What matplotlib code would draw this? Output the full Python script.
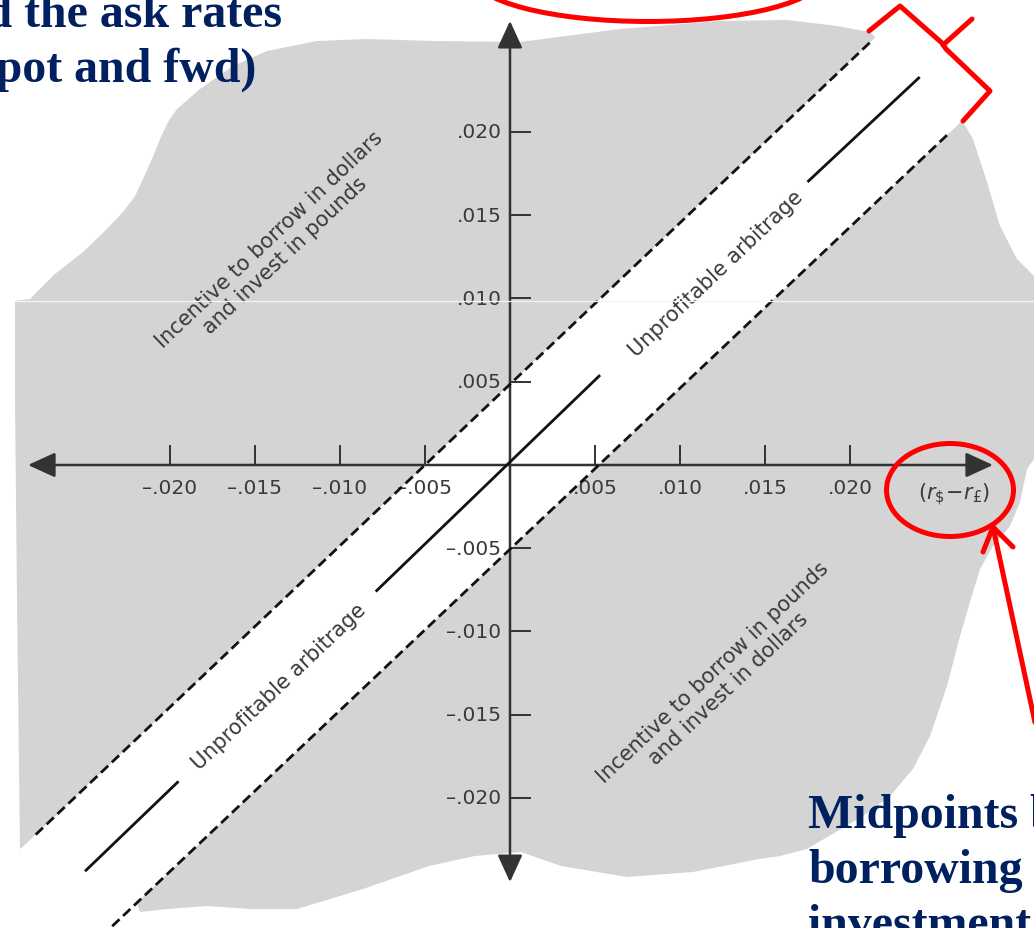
import numpy as np
import matplotlib.pyplot as plt
from matplotlib.patches import Polygon, Ellipse

# tick values and labels, same on both axes
tick_values = [-0.020, -0.015, -0.010, -0.005, 0.005, 0.010, 0.015, 0.020]
tick_labels = ["\u2013.020", "\u2013.015", "\u2013.010", "\u2013.005",
               ".005", ".010", ".015", ".020"]

# solid parity line, in three pieces (broken around the band labels)
solid_x = [[-0.0250, -0.0195], [-0.0079, 0.0053], [0.0175, 0.0241]]
solid_y = [[-0.0244, -0.0190], [-0.0076, 0.0054], [0.0170, 0.0233]]

# dashed edges of the band (end points)
upper_x = [-0.0279, 0.0213]
upper_y = [-0.0222, 0.0255]
lower_x = [-0.0234, 0.0259]
lower_y = [-0.0277, 0.0200]

region_labels = ["Incentive to borrow in dollars\nand invest in pounds",
                 "Incentive to borrow in pounds\nand invest in dollars"]
region_x = [-0.0137, 0.0124]
region_y = [0.0131, -0.0129]

band_label = "Unprofitable arbitrage"
band_x = [0.0121, -0.0136]
band_y = [0.0115, -0.0133]

axis_label = "$(r_{\\$}\\!-\\!r_{\u00a3})$"

W, H = 1034, 929
fig = plt.figure(figsize=(W / 100, H / 100), dpi=100)

# background layer in pixel coordinates: the grey blob
bg = fig.add_axes([0, 0, 1, 1])
bg.set_xlim(0, W)
bg.set_ylim(H, 0)
bg.axis("off")
blob = [(20, 850), (17, 600), (15, 400), (15, 302), (30, 300), (55, 275), (83, 253),
        (105, 232), (123, 213), (135, 197), (143, 180), (152, 160), (160, 140),
        (168, 123), (177, 110), (200, 90), (233, 67), (267, 52), (317, 42),
        (367, 40), (433, 42), (520, 43), (620, 30), (720, 22), (787, 21),
        (837, 27), (870, 33), (950, 110), (963, 123), (973, 140), (987, 183),
        (1000, 227), (1017, 260), (1040, 283), (1040, 455), (1034, 460),
        (1027, 470), (1020, 503), (1010, 527), (993, 547), (980, 570),
        (970, 603), (960, 637), (947, 687), (930, 737), (913, 770), (890, 797),
        (863, 817), (807, 850), (780, 857), (759, 860), (693, 873), (627, 878),
        (561, 867), (521, 853), (475, 857), (429, 867), (363, 890), (297, 910),
        (250, 910), (207, 907), (167, 910), (140, 913), (100, 800)]
bg.add_patch(Polygon(blob, closed=True, fc="#d4d4d4", ec="none"))

# chart layer in data coordinates
ax = fig.add_axes([0, 0, 1, 1])
ax.patch.set_alpha(0)
ax.set_xlim(-0.0300, 0.030824)
ax.set_ylim(-0.027808, 0.027988)
ax.axis("off")

xs = np.array(ax.get_xlim())
up_fit = np.polyfit(upper_x, upper_y, 1)
lo_fit = np.polyfit(lower_x, lower_y, 1)
ax.fill_between(xs, np.polyval(lo_fit, xs), np.polyval(up_fit, xs),
                color="white", lw=0, zorder=1)

axis_col = "#333333"
label_col = "#3a3a3a"
arrow_style = "<|-|>,head_length=1.2,head_width=0.55"

ax.annotate("", xy=(0.02841, 0), xytext=(-0.02835, 0),
            arrowprops=dict(arrowstyle=arrow_style, mutation_scale=14, lw=1.8,
                            color=axis_col, shrinkA=0, shrinkB=0), zorder=3)
ax.annotate("", xy=(0, 0.02667), xytext=(0, -0.02505),
            arrowprops=dict(arrowstyle=arrow_style, mutation_scale=14, lw=1.8,
                            color=axis_col, shrinkA=0, shrinkB=0), zorder=3)
ax.vlines(tick_values, 0, 0.0012, color=axis_col, lw=1.4, zorder=3)
ax.hlines(tick_values, 0, 0.00124, color=axis_col, lw=1.4, zorder=3)

for v, lab in zip(tick_values, tick_labels):
    ax.text(v, -0.00135, lab, ha="center", va="center", fontsize=14.5,
            color=label_col, zorder=2)
    ax.text(-0.00050, v, lab, ha="right", va="center", fontsize=14.5,
            color=label_col, zorder=2)

ax.text(0.02612, -0.00174, axis_label, ha="center", va="center",
        fontsize=15, color=label_col, zorder=2)

for sx, sy in zip(solid_x, solid_y):
    ax.plot(sx, sy, color="#111111", lw=2.0, solid_capstyle="butt", zorder=4)
ax.plot(upper_x, upper_y, color="#111111", lw=2.0, ls=(0, (3.6, 1.8)), zorder=4)
ax.plot(lower_x, lower_y, color="#111111", lw=2.0, ls=(0, (3.6, 1.8)), zorder=4)

for bx, by in zip(band_x, band_y):
    ax.text(bx, by, band_label, ha="center", va="center", rotation=43.5,
            rotation_mode="anchor", fontsize=15, color=label_col, zorder=5)
for lab, rx, ry in zip(region_labels, region_x, region_y):
    ax.text(rx, ry, lab, ha="center", va="center", rotation=43.5,
            rotation_mode="anchor", multialignment="center", fontsize=15,
            color=label_col, linespacing=1.15, zorder=5)

# slide overlay in pixel coordinates: title fragments and red marks
ov = fig.add_axes([0, 0, 1, 1])
ov.patch.set_alpha(0)
ov.set_xlim(0, W)
ov.set_ylim(H, 0)
ov.axis("off")

ov.axhline(302, xmin=15 / W, color="#f4f4f4", lw=0.9, zorder=1)

navy = "#002060"
serif = dict(family="Liberation Serif", weight="bold", fontsize=34.5, color=navy)
ov.text(282, 27, "and the ask rates", ha="right", va="baseline", **serif)
ov.text(256, 82, "(spot and fwd)", ha="right", va="baseline", **serif)
ov.text(808, 828, "Midpoints b", ha="left", va="baseline", **serif)
ov.text(808, 883, "borrowing", ha="left", va="baseline", **serif)
ov.text(808, 938, "investment", ha="left", va="baseline", **serif)

red = "#ff0000"
ov.add_patch(Ellipse((648, -23), 350, 91, fill=False, ec=red, lw=3.6))
ov.add_patch(Ellipse((950, 491), 127, 93, fill=False, ec=red, lw=3.6))
brace = [(869, 32), (900, 7), (942, 44), (946, 50), (990, 92), (963, 122)]
ov.plot([p[0] for p in brace], [p[1] for p in brace], color=red, lw=3.6,
        solid_joinstyle="round", solid_capstyle="round")
ov.plot([943, 972], [46, 20], color=red, lw=3.6, solid_capstyle="round")
ov.plot([983, 993, 1013], [553, 528, 548], color=red, lw=3.6,
        solid_joinstyle="round", solid_capstyle="round")
ov.plot([993, 1045], [528, 770], color=red, lw=3.6, solid_capstyle="round")

fig.savefig("out.png", dpi=100)
